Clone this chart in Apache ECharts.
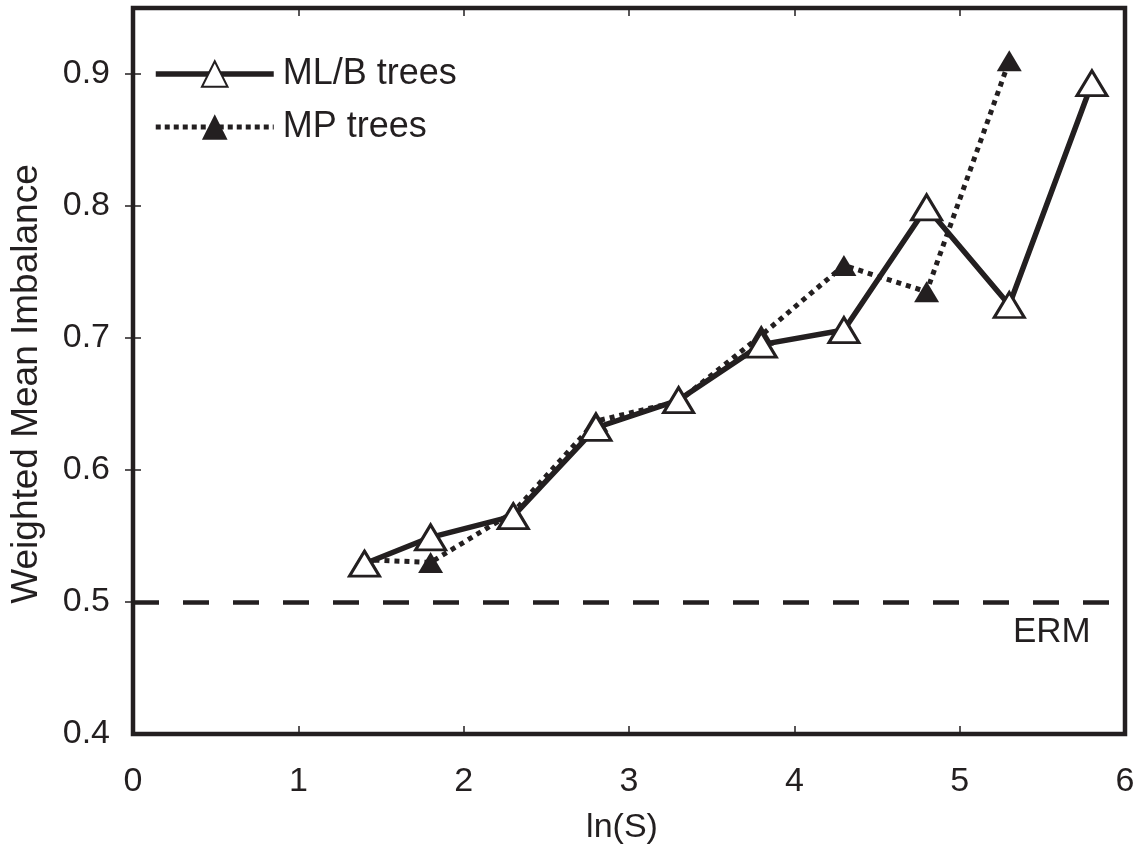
<!DOCTYPE html>
<html>
<head>
<meta charset="utf-8">
<script src="https://cdn.jsdelivr.net/npm/echarts@6/dist/echarts.min.js"></script>
<style>
html,body{margin:0;padding:0;background:#fff;}
#chart{width:1136px;height:848px;}
</style>
</head>
<body>
<div id="chart"></div>
<script>
// ---- data ----
const xTicks = [0, 1, 2, 3, 4, 5, 6];
const yTicks = [0.4, 0.5, 0.6, 0.7, 0.8, 0.9];
const lnS_MLB = [1.4, 1.8, 2.3, 2.8, 3.3, 3.8, 4.3, 4.8, 5.3, 5.8];
const imb_MLB = [0.529, 0.549, 0.565, 0.632, 0.653, 0.695, 0.706, 0.799, 0.725, 0.893];
const lnS_MP = [1.4, 1.8, 2.3, 2.8, 3.3, 3.8, 4.3, 4.8, 5.3];
const imb_MP = [0.532, 0.530, 0.568, 0.637, 0.652, 0.702, 0.755, 0.735, 0.910];
const ermValue = 0.5;
const seriesNames = ['ML/B trees', 'MP trees'];
const xTitle = 'ln(S)';
const yTitle = 'Weighted Mean Imbalance';
const ermLabel = 'ERM';

const INK = '#231f20';
const FONT = '"Liberation Sans", Arial, Helvetica, sans-serif';

const chart = echarts.init(document.getElementById('chart'));

const xInner = xTicks.slice(1, -1);
const yInner = yTicks.slice(1);
const tickStyle = { color: INK, width: 1.5 };

const option = {
  backgroundColor: '#fff',
  animation: false,
  textStyle: { fontFamily: FONT, color: INK },
  grid: {
    left: 133, top: 8, width: 992, height: 726,
    outerBoundsMode: 'none', containLabel: false,
    show: true, borderColor: INK, borderWidth: 4.5, backgroundColor: 'transparent'
  },
  legend: {
    data: [
      { name: seriesNames[0], lineStyle: { width: 5.5, type: 'solid', color: INK } },
      { name: seriesNames[1], lineStyle: { width: 5, type: [5, 4], color: INK } }
    ],
    orient: 'vertical',
    left: 153, top: 56,
    padding: 0,
    itemWidth: 118, itemHeight: 32, itemGap: 17,
    textStyle: { fontFamily: FONT, fontSize: 36, color: INK, padding: [0, 0, 0, 4] },
    selectedMode: false
  },
  xAxis: [{
    type: 'value', min: xTicks[0], max: xTicks[xTicks.length - 1], interval: 1,
    position: 'bottom',
    axisLine: { show: false },
    axisTick: { show: true, inside: true, length: 8, lineStyle: tickStyle, customValues: xInner },
    splitLine: { show: false },
    axisLabel: { color: INK, fontFamily: FONT, fontSize: 34, margin: 31, customValues: xTicks },
    name: xTitle, nameLocation: 'middle', nameGap: 77,
    nameTextStyle: { color: INK, fontFamily: FONT, fontSize: 34, padding: [0, 14, 0, 0] }
  }, {
    type: 'value', min: xTicks[0], max: xTicks[xTicks.length - 1], interval: 1,
    position: 'top',
    axisLine: { show: false },
    axisTick: { show: true, inside: true, length: 8, lineStyle: tickStyle, customValues: xInner },
    splitLine: { show: false },
    axisLabel: { show: false }
  }],
  yAxis: [{
    type: 'value', min: yTicks[0], max: 0.95, interval: 0.1,
    position: 'left',
    axisLine: { show: false },
    axisTick: { show: true, inside: true, length: 8, lineStyle: tickStyle, customValues: yInner },
    splitLine: { show: false },
    axisLabel: {
      color: INK, fontFamily: FONT, fontSize: 34, margin: 23, customValues: yTicks,
      formatter: v => v.toFixed(1)
    },
    name: yTitle, nameLocation: 'middle', nameGap: 88, nameRotate: 90,
    nameTextStyle: { color: INK, fontFamily: FONT, fontSize: 37, padding: [0, 26, 0, 0] }
  }, {
    type: 'value', min: yTicks[0], max: 0.95, interval: 0.1,
    position: 'right',
    axisLine: { show: false },
    axisTick: { show: true, inside: true, length: 8, lineStyle: tickStyle, customValues: yInner },
    splitLine: { show: false },
    axisLabel: { show: false }
  }],
  series: [{
    name: seriesNames[1],
    type: 'line',
    xAxisIndex: 0, yAxisIndex: 0,
    data: lnS_MP.map((x, i) => [x, imb_MP[i]]),
    symbol: 'triangle',
    symbolSize: [25, 21],
    lineStyle: { color: INK, width: 5, type: [5, 5], cap: 'butt' },
    itemStyle: { color: INK, borderColor: INK, borderWidth: 0 },
    z: 2,
    markLine: {
      silent: true,
      symbol: ['none', 'none'],
      label: { show: false },
      lineStyle: { color: INK, width: 4.5, type: [26, 24], cap: 'butt' },
      data: [[{ coord: [xTicks[0], ermValue] }, { coord: [xTicks[xTicks.length - 1], ermValue] }]]
    }
  }, {
    name: seriesNames[0],
    type: 'line',
    xAxisIndex: 0, yAxisIndex: 0,
    data: lnS_MLB.map((x, i) => [x, imb_MLB[i]]),
    symbol: 'triangle',
    symbolSize: [30, 25],
    lineStyle: { color: INK, width: 5.5, type: 'solid' },
    itemStyle: { color: '#fff', borderColor: INK, borderWidth: 3 },
    z: 3
  }],
  graphic: [{
    type: 'text',
    left: 1013, top: 615,
    style: { text: ermLabel, font: '35px ' + FONT, fill: INK }
  }]
};
chart.setOption(option);
</script>
</body>
</html>
